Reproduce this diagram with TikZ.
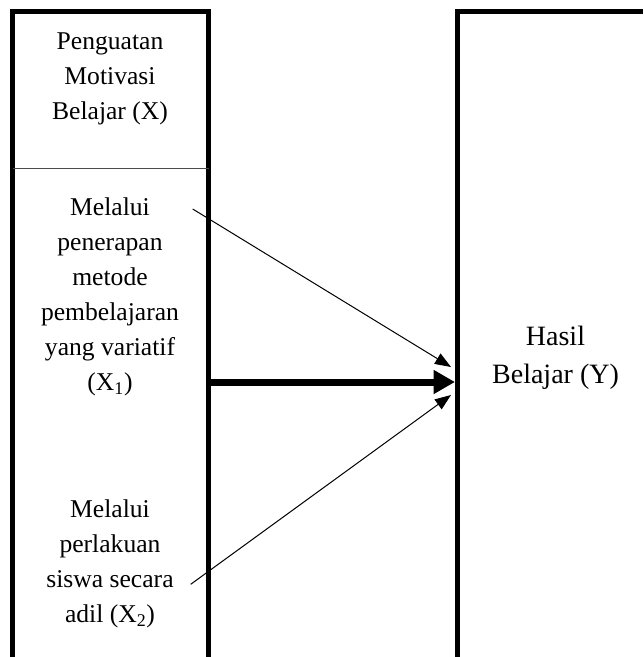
\documentclass[tikz,border=0pt]{standalone}
\usepackage{fontspec}
\setmainfont{Liberation Serif}
\usetikzlibrary{arrows.meta}

\tikzset{every picture/.style={line width=0.75pt}}
\tikzset{
  frame/.style={line width=3.75pt, line join=miter},
  divider/.style={color=black!70, line width=0.75pt},
  thinarrow/.style={-{Triangle[length=12pt,width=9pt]}},
  thickarrow/.style={line width=5.25pt, -{Triangle[length=16pt,width=17pt]}},
  lefttext/.style={anchor=north, inner sep=0pt, align=center, font=\fontsize{19.2}{26.25}\selectfont},
  righttext/.style={anchor=north, inner sep=0pt, align=center, font=\fontsize{21}{28.5}\selectfont}
}

\begin{document}
\begin{tikzpicture}[x=0.75pt,y=0.75pt,yscale=-1,xscale=1]
\useasboundingbox (0,0) rectangle (643,657);

%Shape: Left column
\draw [frame] (12.5,657) -- (12.5,11) -- (208.5,11) -- (208.5,657) ;
%Straight Lines: divider under the heading
\draw [divider] (12.5,168) -- (208.5,168) ;
%Shape: Right column
\draw [frame] (457,657) -- (457,11) -- (643,11) ;

% Text Node
\draw (110,32.4) node (motiv) [lefttext] {Penguatan\\Motivasi\\Belajar (X)};
% Text Node
\draw (110,197.5) node (metode) [lefttext] {Melalui\\penerapan\\metode\\pembelajaran\\yang variatif\\(X\textsubscript{1})};
% Text Node
\draw (110,499.2) node (adil) [lefttext] {Melalui\\perlakuan\\siswa secara\\adil (X\textsubscript{2})};
% Text Node
\draw (555.5,325.9) node (hasil) [righttext] {Hasil\\Belajar (Y)};

%Arrow ends
\coordinate (xa) at (192.7,209) ;
\coordinate (ya) at (451,367) ;
\coordinate (xm) at (211,382) ;
\coordinate (ym) at (455,382) ;
\coordinate (xb) at (190.7,584.3) ;
\coordinate (yb) at (451,395) ;

%Straight Lines
\draw [thinarrow] (xa) -- (ya) ;
%Straight Lines
\draw [thickarrow] (xm) -- (ym) ;
%Straight Lines
\draw [thinarrow] (xb) -- (yb) ;

\end{tikzpicture}
\end{document}
